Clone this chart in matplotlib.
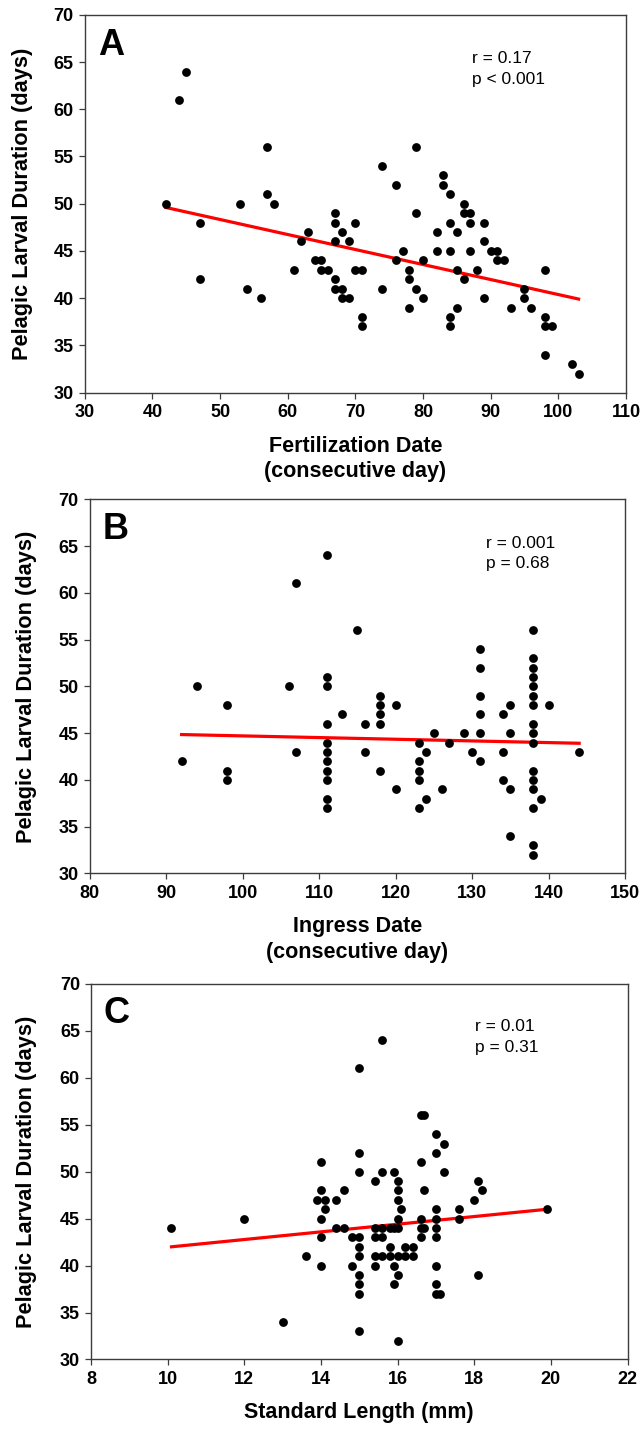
import numpy as np
import matplotlib
matplotlib.use('Agg')
import matplotlib.pyplot as plt

plt.rcParams['font.family'] = ['Liberation Sans', 'DejaVu Sans']

# Panel A: fertilization date vs PLD
fert_day = [45, 44, 57, 42, 53, 57, 58, 47, 47, 54, 56, 61, 62, 63, 64, 65, 65, 66,
            67, 67, 67, 68, 69, 67, 67, 68, 68, 69, 70, 70, 71, 71, 71,
            74, 76, 79, 79, 77, 76, 80, 74, 78, 78, 78, 79, 80, 83, 83, 84, 82,
            82, 84, 84, 85, 86, 86, 87, 87, 87, 85, 86, 88, 89, 89, 90, 91, 91,
            92, 84, 84, 85, 89, 93, 95, 95, 96, 98, 98, 98, 99, 98, 102, 103]
fert_pld = [64, 61, 56, 50, 50, 51, 50, 48, 42, 41, 40, 43, 46, 47, 44, 44, 43, 43,
            49, 48, 46, 47, 46, 42, 41, 41, 40, 40, 48, 43, 43, 38, 37,
            54, 52, 56, 49, 45, 44, 44, 41, 43, 42, 39, 41, 40, 53, 52, 51, 47,
            45, 48, 45, 47, 50, 49, 49, 48, 45, 43, 42, 43, 48, 46, 45, 45, 44,
            44, 38, 37, 39, 40, 39, 41, 40, 39, 43, 38, 37, 37, 34, 33, 32]
fitA_x = [42, 103]
fitA_y = [49.6, 39.9]

# Panel B: ingress date vs PLD
ingress_day = [92, 94, 98, 98, 98, 106, 107, 107,
               111, 111, 111, 111, 111, 111, 111, 111, 111, 111, 111,
               113, 115, 116, 116, 118, 118, 118, 118, 118, 120, 120,
               123, 123, 123, 123, 123, 124, 124, 125, 126, 127, 129, 130,
               131, 131, 131, 131, 131, 131, 134, 134, 134, 135, 135, 135, 135,
               138, 138, 138, 138, 138, 138, 138, 138, 138, 138, 138, 138, 138, 138, 138, 138,
               139, 140, 144]
ingress_pld = [42, 50, 48, 41, 40, 50, 61, 43,
               64, 51, 50, 46, 44, 43, 42, 41, 40, 38, 37,
               47, 56, 46, 43, 49, 48, 47, 46, 41, 48, 39,
               44, 42, 41, 40, 37, 43, 38, 45, 39, 44, 45, 43,
               54, 52, 49, 47, 45, 42, 47, 43, 40, 48, 45, 39, 34,
               56, 53, 52, 51, 50, 49, 48, 46, 45, 44, 41, 40, 39, 37, 33, 32,
               38, 48, 43]
fitB_x = [92, 144]
fitB_y = [44.85, 43.92]

# Panel C: standard length vs PLD
sl_mm = [10.1, 12.0, 13.0, 13.6, 14.0, 14.0, 13.9, 14.1, 14.1, 14.0, 14.4, 14.6,
         14.4, 14.6, 14.0, 14.8, 14.0, 14.8,
         15.0, 15.0, 15.0, 15.0, 15.0, 15.0, 15.0, 15.0, 15.0, 15.0,
         15.6, 15.6, 15.4, 15.4, 15.4, 15.6, 15.6, 15.4, 15.6, 15.4,
         15.8, 15.8, 15.8, 15.9, 16.0, 16.0, 16.0, 16.1, 16.0, 15.9, 16.0,
         16.2, 16.4, 16.2, 16.4, 16.0, 15.9, 16.0, 15.9, 16.0,
         16.6, 16.7, 17.0, 17.2, 17.0, 16.6, 17.2, 16.7, 17.0, 16.6, 17.0,
         16.6, 16.7, 17.0, 16.6, 17.0, 17.0, 17.0, 17.0, 17.1,
         17.6, 17.6, 18.1, 18.2, 18.0, 18.1, 19.9]
sl_pld = [44, 45, 34, 41, 51, 48, 47, 47, 46, 45, 47, 48,
          44, 44, 43, 43, 40, 40,
          61, 52, 50, 43, 42, 41, 39, 38, 37, 33,
          64, 50, 49, 44, 43, 44, 43, 41, 41, 40,
          44, 42, 41, 50, 49, 48, 47, 46, 45, 44, 44,
          42, 42, 41, 41, 41, 40, 39, 38, 32,
          56, 56, 54, 53, 52, 51, 50, 48, 46, 45, 45,
          44, 44, 44, 43, 43, 40, 38, 37, 37,
          46, 45, 49, 48, 47, 39, 46]
fitC_x = [10.1, 19.9]
fitC_y = [42.0, 46.0]

panels = [
    dict(x=fert_day, y=fert_pld, fx=fitA_x, fy=fitA_y, letter='A',
         xlim=(30, 110), xticks=np.arange(30, 111, 10),
         xlabel='Fertilization Date\n(consecutive day)',
         stats=('r = 0.17', 'p < 0.001'),
         pos=[0.1315, 0.7257, 0.8405, 0.2639], sx=0.716, sy=(0.872, 0.817),
         ly=-0.0955, lx=-0.114),
    dict(x=ingress_day, y=ingress_pld, fx=fitB_x, fy=fitB_y, letter='B',
         xlim=(80, 150), xticks=np.arange(80, 151, 10),
         xlabel='Ingress Date\n(consecutive day)',
         stats=('r = 0.001', 'p = 0.68'),
         pos=[0.1396, 0.3896, 0.8309, 0.2615], sx=0.740, sy=(0.869, 0.816),
         ly=-0.0989, lx=-0.114),
    dict(x=sl_mm, y=sl_pld, fx=fitC_x, fy=fitC_y, letter='C',
         xlim=(8, 22), xticks=np.arange(8, 23, 2),
         xlabel='Standard Length (mm)',
         stats=('r = 0.01', 'p = 0.31'),
         pos=[0.1413, 0.0500, 0.8332, 0.2624], sx=0.716, sy=(0.875, 0.818),
         ly=-0.1006, lx=-0.113),
]

fig = plt.figure(figsize=(6.44, 14.31), dpi=100)

for p in panels:
    ax = fig.add_axes(p['pos'])
    ax.scatter(p['x'], p['y'], s=40, color='black', zorder=3, linewidths=0)
    ax.plot(p['fx'], p['fy'], color='red', lw=2.3, zorder=2)
    ax.set_xlim(*p['xlim'])
    ax.set_ylim(30, 70)
    ax.set_xticks(p['xticks'])
    ax.set_yticks(np.arange(30, 71, 5))
    for s in ax.spines.values():
        s.set_color('#3c3c3c')
        s.set_linewidth(1.0)
    ax.tick_params(direction='out', length=4, width=0.9, color='#3c3c3c',
                   labelsize=13, pad=4)
    for lab in ax.get_xticklabels() + ax.get_yticklabels():
        lab.set_fontweight('bold')
    ax.set_xlabel(p['xlabel'], fontsize=15.5, fontweight='bold', linespacing=1.3)
    ax.xaxis.set_label_coords(0.5, p['lx'])
    ax.set_ylabel('Pelagic Larval Duration (days)', fontsize=15.7, fontweight='bold')
    ax.yaxis.set_label_coords(p['ly'], 0.5)
    ax.text(0.024, 0.895, p['letter'], transform=ax.transAxes, fontsize=26,
            fontweight='bold', va='baseline', ha='left')
    ax.text(p['sx'], p['sy'][0], p['stats'][0], transform=ax.transAxes,
            fontsize=12.5, va='baseline', ha='left')
    ax.text(p['sx'], p['sy'][1], p['stats'][1], transform=ax.transAxes,
            fontsize=12.5, va='baseline', ha='left')

fig.savefig('out.png', dpi=100)
